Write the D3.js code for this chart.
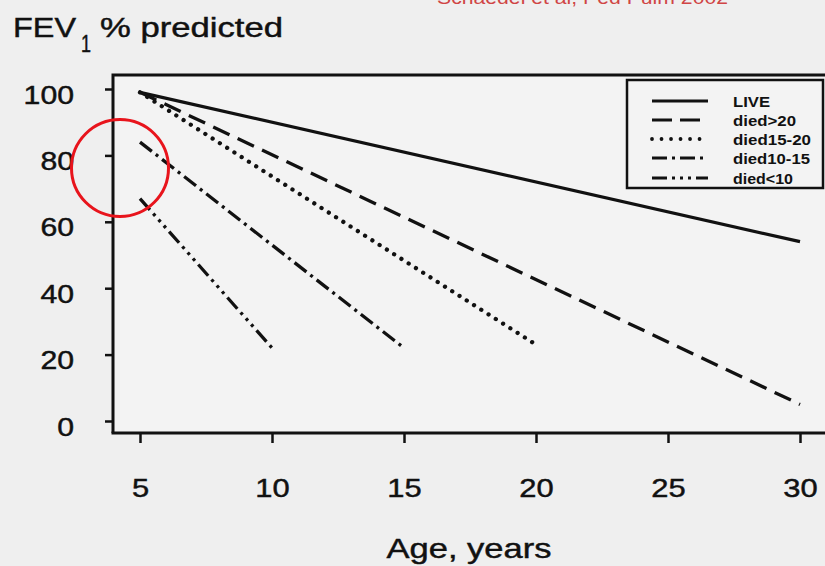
<!DOCTYPE html>
<html>
<head>
<meta charset="utf-8">
<script src="https://cdn.jsdelivr.net/npm/d3@7"></script>
<style>
  html, body { margin: 0; padding: 0; background: #efefef; }
  svg { display: block; }
  text { font-family: "Liberation Sans", Arial, Helvetica, sans-serif; fill: #111; }
  .heavy { stroke: #111; stroke-width: 0.45px; }
</style>
</head>
<body>
<svg id="chart" width="825" height="566"></svg>
<script>
// ---- data ----
const xTicks = [5, 10, 15, 20, 25, 30];
const yTicks = [0, 20, 40, 60, 80, 100];
const seriesNames = ["LIVE", "died>20", "died15-20", "died10-15", "died<10"];
const startAge = [5, 5, 5, 5, 5];
const endAge = [30, 30, 20, 15, 10];
const startFEV = [99, 99, 99, 84, 67];
const endFEV = [54, 5, 23, 22, 22];
const title = "FEV";
const titleSub = "1";
const titleRest = "% predicted";
const xTitle = "Age, years";
const citation = "Schaedel et al, Ped Pulm 2002";

// ---- styles ----
const dashes = ["none", "18,9", "3,5.6", "15,5,3,5", "15,5,3,5,3,5,3,5"];
const legendTextLen = [37, 63, 78, 77, 60];

const svg = d3.select("#chart");
svg.append("rect").attr("width", 825).attr("height", 566).attr("fill", "#efefef");

const x = d3.scaleLinear().domain([5, 30]).range([140, 800]);
const y = d3.scaleLinear().domain([0, 100]).range([421, 89]);

const axisLeftX = 113, axisBottomY = 433, frameTop = 75;

// plot background slightly lighter
svg.append("rect").attr("x", axisLeftX).attr("y", frameTop)
  .attr("width", 825 - axisLeftX).attr("height", axisBottomY - frameTop)
  .attr("fill", "#f3f3f3");

// frame lines
const frame = svg.append("g").attr("stroke", "#111").attr("stroke-width", 3).attr("fill", "none");
frame.append("path").attr("d", `M${axisLeftX},${axisBottomY} L${axisLeftX},${frameTop} L825,${frameTop}`);
frame.append("path").attr("d", `M${axisLeftX - 1.5},${axisBottomY} L825,${axisBottomY}`);

// y axis
const yAxis = d3.axisLeft(y).tickValues(yTicks).tickSize(8).tickPadding(31);
const gy = svg.append("g").attr("transform", `translate(${axisLeftX},0)`).call(yAxis);
gy.select(".domain").remove();
gy.selectAll(".tick line").attr("stroke", "#111").attr("stroke-width", 2.5);
gy.selectAll(".tick text")
  .attr("class", "heavy")
  .attr("dy", 14).attr("font-size", 25).attr("fill", "#111")
  .attr("font-family", "Liberation Sans, Arial, sans-serif")
  .attr("textLength", d => String(d).length * 16.8)
  .attr("lengthAdjust", "spacingAndGlyphs");

// x axis
const xAxis = d3.axisBottom(x).tickValues(xTicks).tickSize(10).tickPadding(34);
const gx = svg.append("g").attr("transform", `translate(0,${axisBottomY})`).call(xAxis);
gx.select(".domain").remove();
gx.selectAll(".tick line").attr("stroke", "#111").attr("stroke-width", 2.5);
gx.selectAll(".tick text")
  .attr("class", "heavy")
  .attr("dy", 0).attr("y", 64).attr("font-size", 26.5).attr("fill", "#111")
  .attr("font-family", "Liberation Sans, Arial, sans-serif")
  .attr("textLength", d => String(d).length * 17.2)
  .attr("lengthAdjust", "spacingAndGlyphs");

// x title
svg.append("text").attr("class", "heavy").attr("x", 469).attr("y", 558).attr("text-anchor", "middle")
  .attr("font-size", 28).attr("textLength", 165).attr("lengthAdjust", "spacingAndGlyphs")
  .text(xTitle);

// y title
svg.append("text").attr("class", "heavy").attr("x", 13).attr("y", 37).attr("font-size", 27)
  .attr("textLength", 63).attr("lengthAdjust", "spacingAndGlyphs").text(title);
svg.append("text").attr("class", "heavy").attr("x", 81).attr("y", 52).attr("font-size", 23)
  .attr("textLength", 10).attr("lengthAdjust", "spacingAndGlyphs").text(titleSub);
svg.append("text").attr("class", "heavy").attr("x", 100).attr("y", 37).attr("font-size", 27)
  .attr("textLength", 183).attr("lengthAdjust", "spacingAndGlyphs").text(titleRest);

// data lines
const line = d3.line().x(d => x(d[0])).y(d => y(d[1]));
seriesNames.forEach((name, i) => {
  const pts = [[startAge[i], startFEV[i]], [endAge[i], endFEV[i]]];
  svg.append("path").datum(pts)
    .attr("d", line)
    .attr("fill", "none")
    .attr("stroke", "#111")
    .attr("stroke-width", i === 2 ? 4.3 : 3.3)
    .attr("stroke-linecap", i === 2 ? "round" : "butt")
    .attr("stroke-dasharray", i === 2 ? "0.01,8.6" : dashes[i]);
});

// legend
const lg = svg.append("g");
lg.append("rect").attr("x", 627).attr("y", 80).attr("width", 196).attr("height", 108)
  .attr("fill", "#f3f3f3").attr("stroke", "#111").attr("stroke-width", 2.5);
const rowY = [101, 120, 139, 158, 178];
seriesNames.forEach((name, i) => {
  lg.append("line").attr("x1", 652).attr("x2", 708).attr("y1", rowY[i]).attr("y2", rowY[i])
    .attr("stroke", "#111").attr("stroke-width", i === 2 ? 3.8 : 3)
    .attr("stroke-linecap", i === 2 ? "round" : "butt")
    .attr("stroke-dasharray", i === 2 ? "0.01,9.5" : (i === 1 ? "20,8" : dashes[i]));
  lg.append("text").attr("x", 733).attr("y", rowY[i] + 5.5)
    .attr("font-size", 14.5).attr("font-weight", "bold")
    .attr("textLength", legendTextLen[i]).attr("lengthAdjust", "spacingAndGlyphs")
    .text(name);
});

// citation (partially cut off at the top, as in the source slide)
svg.append("text").attr("x", 437).attr("y", 4).attr("font-size", 19)
  .attr("font-family", "Open Sans, sans-serif")
  .style("fill", "#d04545")
  .attr("textLength", 291).attr("lengthAdjust", "spacingAndGlyphs")
  .text(citation);

// red highlight circle
svg.append("circle").attr("cx", 120).attr("cy", 168).attr("r", 48.5)
  .attr("fill", "none").attr("stroke", "#e8141c").attr("stroke-width", 3);
</script>
</body>
</html>
